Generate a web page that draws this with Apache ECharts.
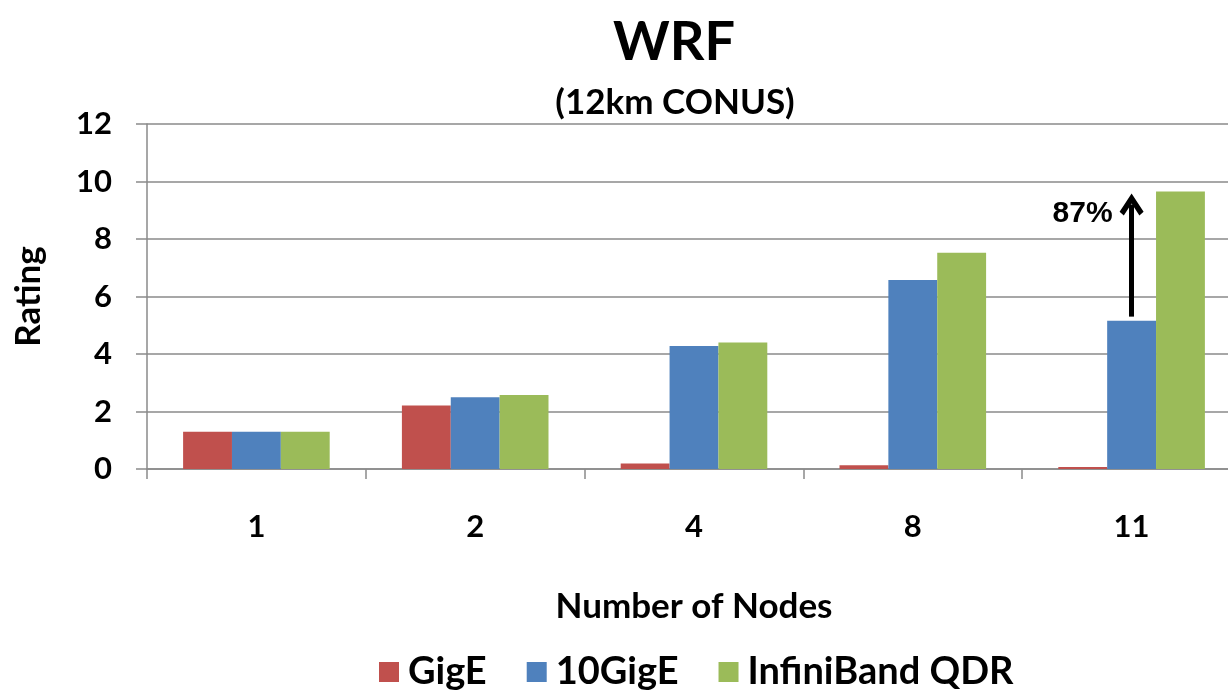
<!DOCTYPE html>
<html>
<head>
<meta charset="utf-8">
<script src="https://cdn.jsdelivr.net/npm/echarts@6/dist/echarts.min.js"></script>
<style>
  html, body { margin: 0; padding: 0; background: #fff; }
  #chart { width: 1228px; height: 693px; }
</style>
</head>
<body>
<div id="chart"></div>
<script>
// WRF 12km CONUS rating by node count
const nodes = ['1', '2', '4', '8', '11']
const gigE = [1.3, 2.21, 0.19, 0.13, 0.07]
const tenGigE = [1.3, 2.5, 4.28, 6.57, 5.16]
const infiniBand = [1.3, 2.57, 4.4, 7.52, 9.65]
const yTicks = { min: 0, max: 12, interval: 2 }
const gainNote = { node: '11', from: 5.3, to: 9.2, label: '87%', labelAt: 8.87 }

const font = 'Lato, "Open Sans", sans-serif'
const axisGray = '#8a8a8a'

const chartIns = echarts.init(document.getElementById('chart'))

const option = {
  backgroundColor: '#fff',
  animation: false,
  title: [
    {
      text: 'WRF',
      left: 669,
      top: 11,
      textAlign: 'center',
      textStyle: { fontFamily: font, fontSize: 54, fontWeight: 'bold', color: '#000' }
    },
    {
      text: '(12km CONUS)',
      left: 670,
      top: 80,
      textAlign: 'center',
      textStyle: { fontFamily: font, fontSize: 35, fontWeight: 'bold', color: '#000' }
    }
  ],
  legend: {
    left: 374,
    top: 648,
    itemWidth: 20,
    itemHeight: 20,
    itemGap: 40,
    icon: 'rect',
    textStyle: { fontFamily: font, fontSize: 38, fontWeight: 'bold', color: '#000', padding: [0, 0, 0, 4] },
    data: ['GigE', '10GigE', 'InfiniBand QDR']
  },
  grid: {
    left: 147,
    top: 124,
    bottom: 224,
    right: -13,
    containLabel: false,
    outerBoundsMode: 'none'
  },
  xAxis: {
    type: 'category',
    data: nodes,
    name: 'Number of Nodes',
    nameLocation: 'middle',
    nameGap: 120,
    nameTextStyle: { fontFamily: font, fontSize: 35, fontWeight: 'bold', color: '#000' },
    axisLine: { lineStyle: { color: axisGray, width: 1.5 } },
    axisTick: { show: true, length: 10, inside: false, lineStyle: { color: axisGray, width: 1.5 } },
    axisLabel: { fontFamily: font, fontSize: 31, fontWeight: 'bold', color: '#000', margin: 42 }
  },
  yAxis: {
    type: 'value',
    min: yTicks.min,
    max: yTicks.max,
    interval: yTicks.interval,
    name: 'Rating',
    nameLocation: 'middle',
    nameGap: 101,
    nameRotate: 90,
    nameTextStyle: { fontFamily: font, fontSize: 35, fontWeight: 'bold', color: '#000' },
    axisLine: { show: true, lineStyle: { color: axisGray, width: 1.5 } },
    axisTick: { show: true, length: 11, lineStyle: { color: axisGray, width: 1.5 } },
    splitLine: { lineStyle: { color: axisGray, width: 1.5 } },
    axisLabel: { fontFamily: font, fontSize: 31, fontWeight: 'bold', color: '#000', margin: 35 }
  },
  series: [
    {
      name: 'GigE',
      type: 'bar',
      data: gigE,
      barGap: '0%',
      barCategoryGap: '33%',
      itemStyle: { color: '#C0504D' }
    },
    {
      name: '10GigE',
      type: 'bar',
      data: tenGigE,
      barGap: '0%',
      barCategoryGap: '33%',
      itemStyle: { color: '#4F81BD' },
      markLine: {
        silent: true,
        symbol: ['none', 'path://M0,10 L10,0 L20,10 L16.5,12 L10,5.5 L3.5,12 Z'],
        symbolSize: [24, 22],
        lineStyle: { color: '#000', width: 5, type: 'solid' },
        label: { show: false },
        data: [[
          { coord: [gainNote.node, gainNote.from] },
          { coord: [gainNote.node, gainNote.to] }
        ]]
      },
      markPoint: {
        silent: true,
        symbol: 'rect',
        symbolSize: 1,
        itemStyle: { color: 'rgba(0,0,0,0)' },
        label: {
          show: true,
          formatter: gainNote.label,
          offset: [-49, 0],
          fontFamily: '"Liberation Sans", Arial, sans-serif',
          fontSize: 30,
          fontWeight: 'bold',
          color: '#000'
        },
        data: [{ coord: [gainNote.node, gainNote.labelAt] }]
      }
    },
    {
      name: 'InfiniBand QDR',
      type: 'bar',
      data: infiniBand,
      barGap: '0%',
      barCategoryGap: '33%',
      itemStyle: { color: '#9BBB59' }
    }
  ]
}

chartIns.setOption(option)
</script>
</body>
</html>
